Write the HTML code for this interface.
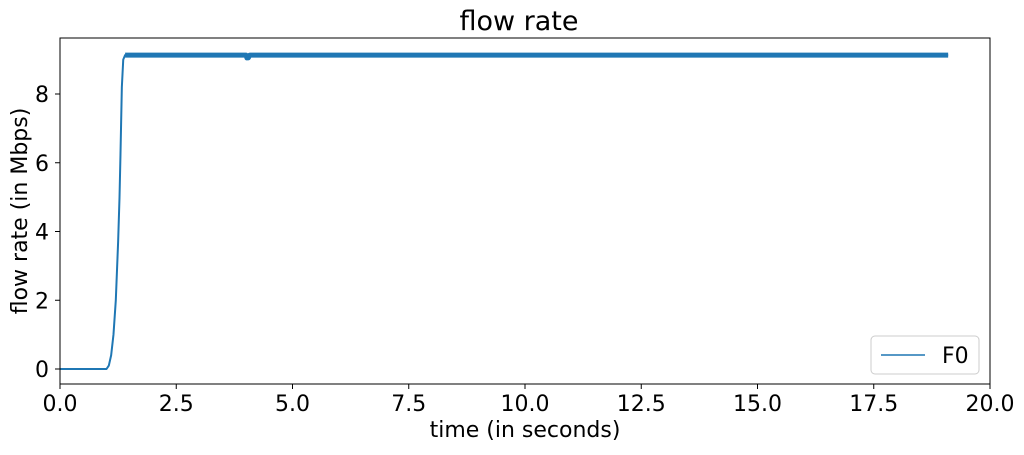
<!DOCTYPE html>
<html><head><meta charset="utf-8"><style>
body{margin:0;background:#fff;font-family:"Liberation Sans","DejaVu Sans",sans-serif}
svg text{font-family:"DejaVu Sans","Liberation Sans",sans-serif}
</style></head><body>
<svg id="chart" width="1024" height="450">
<text x="519" y="30" text-anchor="middle" font-size="27" fill="#000">flow rate</text>
<g id="plot"></g>
<rect x="60" y="38" width="930" height="346" fill="none" stroke="#000" stroke-width="1"/>
<g id="xt"></g><g id="yt"></g>
<text x="525" y="437" text-anchor="middle" font-size="22">time (in seconds)</text>
<text transform="translate(27,211) rotate(-90)" text-anchor="middle" font-size="22">flow rate (in Mbps)</text>
<g>
<rect x="871" y="336" width="108" height="38" rx="4" fill="#fff" stroke="#ccc"/>
<line x1="881" y1="355" x2="925" y2="355" stroke="#1f77b4" stroke-width="1.5"/>
<text x="942" y="363" font-size="22">F0</text>
</g>
</svg>
<script>
const times=[0,1.0,1.05,1.1,1.15,1.2,1.25,1.28,1.3,1.33,1.36,1.4,4.0,4.02,4.05,4.08,19.1];
const rates=[0,0,0.1,0.4,1.0,2.0,3.7,5.0,6.2,8.2,9.0,9.13,9.13,9.05,9.05,9.13,9.13];
const xTicks=[0,2.5,5,7.5,10,12.5,15,17.5,20];
const yTicks=[0,2,4,6,8];
const X=v=>60+v*46.5, Y=v=>369-v*34.375;
const ns="http://www.w3.org/2000/svg";
const plot=document.getElementById('plot');
const rise=document.createElementNS(ns,'polyline');


rise.setAttribute('points',times.map((t,i)=>X(t)+','+Y(rates[i])).join(' '));
rise.setAttribute('fill','none');rise.setAttribute('stroke','#1f77b4');rise.setAttribute('stroke-width','2');rise.setAttribute('stroke-linejoin','round');
plot.appendChild(rise);
const pts=[];times.forEach((t,i)=>{if(t>=1.4)pts.push(X(t)+','+Y(rates[i]));});
const band=document.createElementNS(ns,'polyline');


band.setAttribute('points',pts.join(' '));
band.setAttribute('fill','none');band.setAttribute('stroke','#1f77b4');band.setAttribute('stroke-width','5');band.setAttribute('stroke-linejoin','round');
plot.appendChild(band);
const xt=document.getElementById('xt');
xTicks.forEach(v=>{
 const l=document.createElementNS(ns,'line');
 
 
 l.setAttribute('x1',X(v));l.setAttribute('x2',X(v));l.setAttribute('y1',384);l.setAttribute('y2',389);l.setAttribute('stroke','#000');xt.appendChild(l);
 const t=document.createElementNS(ns,'text');
 
 
 t.setAttribute('x',X(v));t.setAttribute('y',411);t.setAttribute('text-anchor','middle');t.setAttribute('font-size','22');t.textContent=v.toFixed(1);xt.appendChild(t);
});
const yt=document.getElementById('yt');
yTicks.forEach(v=>{
 const l=document.createElementNS(ns,'line');
 
 
 l.setAttribute('x1',55);l.setAttribute('x2',60);l.setAttribute('y1',Y(v));l.setAttribute('y2',Y(v));l.setAttribute('stroke','#000');yt.appendChild(l);
 const t=document.createElementNS(ns,'text');
 
 
 t.setAttribute('x',49);t.setAttribute('y',Y(v)+8);t.setAttribute('text-anchor','end');t.setAttribute('font-size','22');t.textContent=v;yt.appendChild(t);
});
</script>
</body></html>
